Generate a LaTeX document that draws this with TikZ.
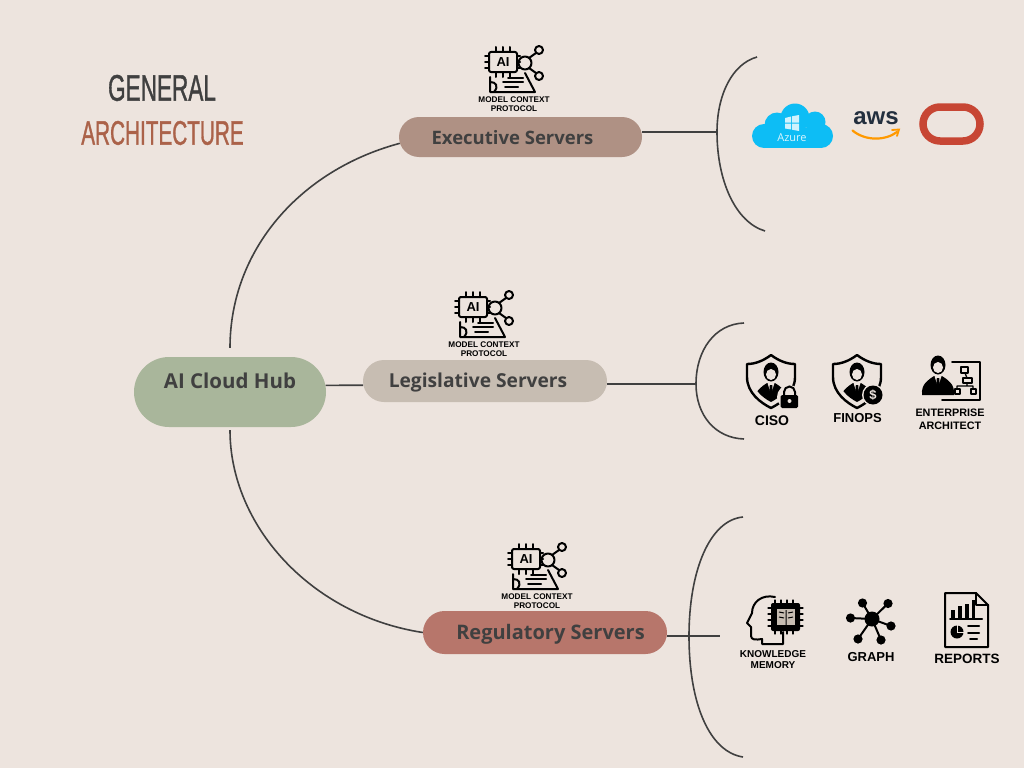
\documentclass[tikz,border=0pt]{standalone}
\usepackage{fontspec}
\setmainfont{Open Sans}
\newfontfamily\iconfont{Liberation Sans}
\newfontfamily\titlefont[FakeBold=1.4]{Liberation Sans}
\usetikzlibrary{shapes,calc,positioning}
\definecolor{pagebg}{HTML}{EDE4DE}
\definecolor{hubgreen}{HTML}{A9B69B}
\definecolor{execbrown}{HTML}{AF9184}
\definecolor{legisgrey}{HTML}{C7BDB2}
\definecolor{regred}{HTML}{B7766B}
\definecolor{inkgrey}{HTML}{404040}
\definecolor{titlered}{HTML}{AB6249}
\definecolor{azureblue}{HTML}{0DBDF5}
\definecolor{awsnavy}{HTML}{232F3E}
\definecolor{awsorange}{HTML}{FF9900}
\definecolor{oraclered}{HTML}{C74634}
\tikzset{
	pill/.style = {rounded rectangle, inner sep=0pt, minimum height=40pt},
	pilltext/.style = {inner sep=0pt, text=inkgrey, font=\bfseries\fontsize{#1}{#1}\selectfont},
	link/.style = {draw=inkgrey, line width=1.6pt},
	bracket/.style = {draw=inkgrey, line width=1.6pt},
	title/.style = {inner sep=0pt, xscale=.61, transform shape, font=\titlefont\fontsize{37}{40}\selectfont},
	icontext/.style = {inner sep=0pt, align=center, text=black, font=\iconfont\bfseries\fontsize{#1}{#1}\selectfont},
	icontext/.default = 12,
	icon/.style = {draw=black, line width=2pt, line cap=round, line join=round},
	mcpicon/.pic = {
		\draw[icon, rounded corners=2pt] (-25,-48) rectangle (3,-28);
		\node[icontext=13] (-ai) at (-11,-38) {AI};
		\foreach \p in {-18,-11,-4} {
			\draw[icon] (\p,-48) -- (\p,-53);
			\draw[icon] (\p,-28) -- (\p,-23);
		}
		\foreach \p in {-44,-38,-32} {
			\draw[icon] (-25,\p) -- (-29,\p);
			\draw[icon] (3,\p) -- (6,\p);
		}
		\draw[icon] (11,-37) circle (6.5) (25,-50) circle (4) (25,-24) circle (4);
		\draw[icon] (15,-42) -- (22,-47) (15,-32) -- (22,-27);
		\draw[icon] (-24,-23) -- (-24,-8) -- (21,-8) -- (11,-27);
		\draw[icon] (-24,-18) .. controls (-18,-18) and (-15,-14) .. (-20,-8);
		\draw[icon] (-6,-22) -- (9,-22) (-11,-18) -- (9,-18) (-9,-13) -- (4,-13);
		\node[icontext=8.2] (-text) at (0,4.5) {MODEL CONTEXT\\[1pt]PROTOCOL};
	},
	bizman/.pic = {
		\fill[black] (0,0) ellipse (7.5 and 9.5);
		\fill[pagebg] (0,2.5) ellipse (5 and 5.5);
		\fill[black] (-16,30) .. controls (-17,19) and (-10,15) .. (-4,11) -- (4,11) .. controls (10,15) and (17,19) .. (16,30) -- cycle;
		\fill[pagebg] (-3.5,11) -- (3.5,11) -- (0,22) -- cycle;
		\fill[black] (-1.2,13) -- (1.2,13) -- (1.8,21) -- (0,25) -- (-1.8,21) -- cycle;
	},
	shieldicon/.pic = {
		\draw[icon, line width=2.4pt] (0,0) .. controls (-8,6) and (-16,9) .. (-24,9) -- (-24,22) .. controls (-24,38) and (-10,48) .. (0,53) .. controls (10,48) and (24,38) .. (24,22) -- (24,9) .. controls (16,9) and (8,6) .. (0,0) -- cycle;
		\begin{scope}
			\clip (-19,0) -- (-19,22) .. controls (-19,34) and (-8,43) .. (0,47) .. controls (8,43) and (19,34) .. (19,22) -- (19,0) -- cycle;
			\pic at (0,17) {bizman};
		\end{scope}
	},
}
\begin{document}
\begin{tikzpicture}[x=1pt,y=-1pt]
    \useasboundingbox (0,0) rectangle (1024,768);
    \fill[pagebg] (0,0) rectangle (1024,768);

    \node[title, text=inkgrey] (titlea) at (162,88) {GENERAL};
    \node[title, text=titlered, font=\titlefont\fontsize{34}{36}\selectfont] (titleb) at (162.5,133) {ARCHITECTURE};

    \node[pill, fill=hubgreen, minimum width=192pt, minimum height=70pt] (hub) at (230,392) {};
    \node[pill, fill=execbrown, minimum width=243pt] (exec) at (520.5,137) {};
    \node[pill, fill=legisgrey, minimum width=244pt, minimum height=42pt] (legis) at (485,381) {};
    \node[pill, fill=regred, minimum width=244pt, minimum height=43pt] (reg) at (545,632.5) {};

    \node[pilltext=20.5] (hubtext) at (230,381) {AI Cloud Hub};
    \node[pilltext=18.5] (exectext) at (512.5,137.5) {Executive Servers};
    \node[pilltext=19.2] (legistext) at (478,383) {Legislative Servers};
    \node[pilltext=20] (regtext) at (550.5,634.5) {Regulatory Servers};

    % brackets
    \coordinate (cloudtip) at (717,132);
    \coordinate (roletip) at (696,384);
    \coordinate (datatip) at (720,636);
    \draw[bracket] (757,57) .. controls (732,64) and (717,95) .. (717,132) .. controls (717,180) and (735,222) .. (765,231);
    \draw[bracket] (744,323) .. controls (715,324) and (696,350) .. (696,384) .. controls (696,415) and (715,438) .. (744,439);
    \draw[bracket] (743,517) .. controls (710,520) and (689,570) .. (689,636) .. controls (689,705) and (710,752) .. (743,757);

    \draw[link, shorten <=9pt] (hub.north) .. controls (230,250) and (300,170) .. (exec.183);
    \draw[link, shorten <=3pt] (hub.south) .. controls (230,525) and (310,615) .. (reg.west);
    \draw[link] (hub.4) -- (legis.182);
    \path[link] (exec.east |- cloudtip) edge (cloudtip);
    \path[link] (legis.east |- roletip) edge (roletip);
    \path[link] (reg.east |- datatip) edge (datatip);

    \pic (mcpa) at (514,100) {mcpicon};
    \pic (mcpb) at (484,345) {mcpicon};
    \pic (mcpc) at (537,597) {mcpicon};

    % azure
    \foreach \a/\b/\r in {795/118/14.5,777/125/12.5,764/136/12,815/122/10.5,821/136/12} {
        \fill[azureblue] (\a,\b) circle (\r);
    }
    \fill[azureblue] (764,128) rectangle (821,148);
    \fill[white!80!azureblue] (785,118) -- (791,116.5) -- (791,122.5) -- (785,122.5) -- cycle (792,116.3) -- (799,115) -- (799,122.5) -- (792,122.5) -- cycle (785,123.5) -- (791,123.5) -- (791,129.5) -- (785,128.5) -- cycle (792,123.5) -- (799,123.5) -- (799,131) -- (792,129.7) -- cycle;
    \node[inner sep=0pt, text=white!85!azureblue, font=\fontsize{11}{12}\selectfont] (azure) at (792,137.5) {Azure};
    % aws
    \node[inner sep=0pt, text=awsnavy, font=\iconfont\bfseries\fontsize{24}{24}\selectfont] (aws) at (876,118) {aws};
    \draw[awsorange, line width=2.2pt, line cap=round] (852.5,130.5) .. controls (865,141) and (885,141) .. (897,132);
    \draw[awsorange, line width=1.8pt, line cap=round] (892,130) -- (899,129.5) -- (897,136);
    % oracle
    \node[rounded rectangle, draw=oraclered, line width=7.5pt, inner sep=0pt, minimum width=57pt, minimum height=34pt] (oracle) at (951.5,124) {};

    % roles
    \pic (ciso) at (771,355) {shieldicon};
    \fill[pagebg] (789,397) circle (12);
    \draw[black, line width=2pt] (784,396) -- (784,392) arc (180:360:5.5) -- (795,396);
    \fill[black, rounded corners=1.5pt] (780.5,395) rectangle (798,408);
    \fill[pagebg] (789.5,401) circle (2);
    \node[icontext=14] (cisotext) at (772,421) {CISO};

    \pic (finops) at (857,355) {shieldicon};
    \fill[pagebg] (873,395) circle (11);
    \fill[black] (873,395) circle (9.5);
    \node[icontext=13, text=pagebg] (dollar) at (873,395) {\$};
    \node[icontext=13] (finopstext) at (857.5,418) {FINOPS};

    \pic (archman) at (938,365) {bizman};
    \draw[icon] (952,362) -- (980,362) -- (980,400) -- (942,400);
    \draw[icon, line width=1.3pt] (961,367) rectangle (968,373) (963,378) rectangle (972,383) (955,389) rectangle (960,394) (971,389) rectangle (976,394);
    \draw[icon, line width=1.3pt] (965,373) -- (967,378) (967,383) -- (967,386) (957,389) -- (957,386) -- (973,386) -- (973,389);
    \node[icontext=10.8] (archtext) at (950,419.5) {ENTERPRISE\\[2.5pt]ARCHITECT};

    % data
    \draw[icon] (775,597) .. controls (762,594) and (752,602) .. (752,613) -- (747,623) -- (751,627) -- (751,636) .. controls (751,640) and (756,640) .. (762,639) -- (762,644) -- (783,644) -- (783,632);
    \foreach \p in {775,781,787,793} {
        \draw[icon, line width=1.2pt] (\p,600) -- (\p,634);
    }
    \foreach \p in {608,614,620,626} {
        \draw[icon, line width=1.2pt] (768,\p) -- (803,\p);
    }
    \fill[black, rounded corners=2pt] (771,603) rectangle (800,631);
    \fill[legisgrey] (777,609) rectangle (795,625);
    \draw[black, line width=1pt] (786,610) -- (786,625) (779,612) -- (784,613) (793,612) -- (788,613) (779,617) -- (784,618) (793,617) -- (788,618);
    \node[icontext=10] (memtext) at (773,659.5) {KNOWLEDGE\\[1pt]MEMORY};

    \fill[black] (872,619) circle (7.5);
    \foreach \a/\b in {862.5/603,888/603.5,850.5/618,891/626,858/639,881/640} {
        \fill[black] (\a,\b) circle (4.6);
        \draw[black, line width=2pt] (872,619) -- (\a,\b);
    }
    \node[icontext=13] (graphtext) at (871,657) {GRAPH};

    \draw[icon] (945,593) -- (976,593) -- (988,605) -- (988,647) -- (945,647) -- cycle;
    \draw[icon] (976,593) -- (976,605) -- (988,605);
    \draw[icon, line width=3.6pt, line cap=butt] (953,618) -- (953,610) (960,618) -- (960,606) (967,618) -- (967,604) (973.5,618) -- (973.5,600);
    \draw[icon] (950,619) -- (982,619);
    \fill[black] (957,632) circle (6.5);
    \draw[pagebg, line width=1pt] (957,632) -- (964,632) (957,632) -- (957,625);
    \draw[icon] (968,626) -- (979,626) (968,633) -- (979,633) (970,639) -- (977,639);
    \node[icontext=13.5] (reporttext) at (967,659) {REPORTS};
\end{tikzpicture}
\end{document}
